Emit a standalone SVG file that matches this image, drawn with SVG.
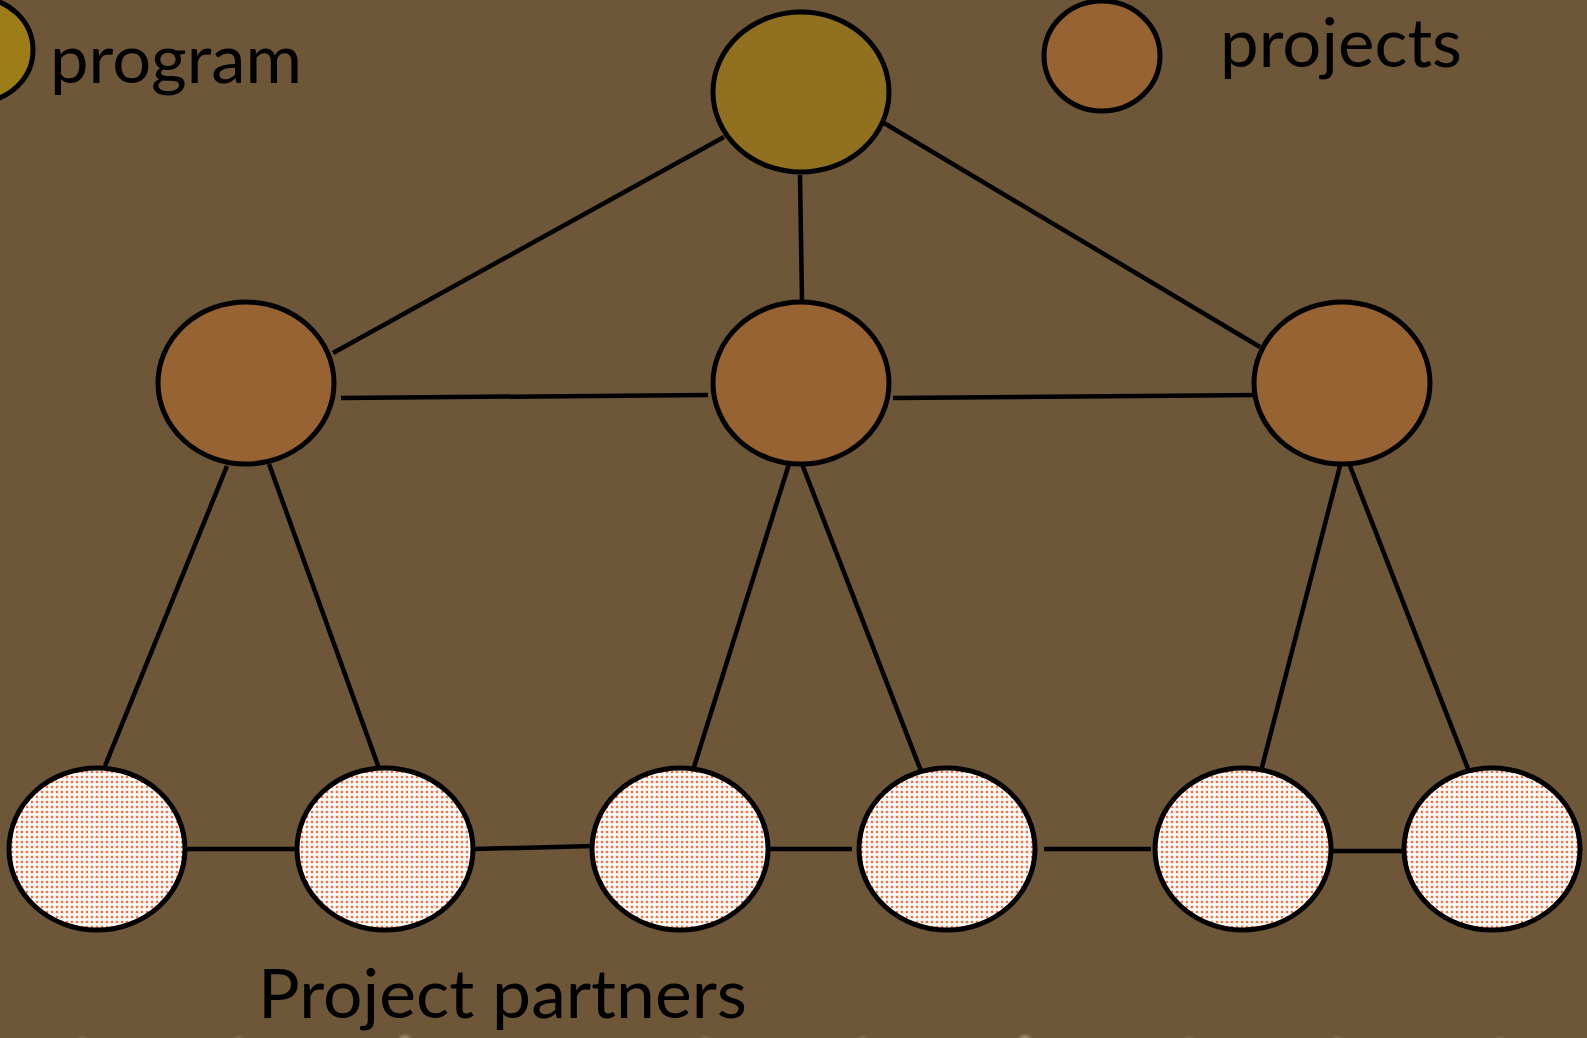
<svg xmlns="http://www.w3.org/2000/svg" width="1587" height="1038" viewBox="0 0 1587 1038">
<defs>
<pattern id="dots" width="5" height="5" patternUnits="userSpaceOnUse">
<rect width="5" height="5" fill="#ffffff"/>
<rect x="0.5" y="0.5" width="3" height="3" fill="#fbcbb6"/>
<rect x="1" y="1" width="2" height="2" fill="#f46d3e"/>
</pattern>
<radialGradient id="speck" cx="0.5" cy="0.5" r="0.5">
<stop offset="0" stop-color="#d8c49a" stop-opacity="0.8"/>
<stop offset="1" stop-color="#d8c49a" stop-opacity="0"/>
</radialGradient>
</defs>
<style>
.n{stroke:#000;stroke-width:5}
.program{fill:#8f7120}
.project{fill:#976332}
.partner{fill:url(#dots)}
.e{stroke:#000;stroke-width:4.5;fill:none;stroke-linecap:butt}
.t{font-family:Lato,"Open Sans","Liberation Sans",sans-serif;fill:#000}
</style>
<rect width="1587" height="1038" fill="#6e5639"/>
<g id="specks">
<ellipse cx="82" cy="1040" rx="7" ry="5" fill="url(#speck)" opacity="0.35"/>
<ellipse cx="239" cy="1040" rx="7" ry="5" fill="url(#speck)" opacity="0.45"/>
<ellipse cx="405" cy="1039" rx="8" ry="6" fill="url(#speck)" opacity="0.8"/>
<ellipse cx="705" cy="1040" rx="7" ry="5" fill="url(#speck)" opacity="0.35"/>
<ellipse cx="863" cy="1040" rx="7" ry="5" fill="url(#speck)" opacity="0.45"/>
<ellipse cx="1025" cy="1039" rx="8" ry="6" fill="url(#speck)" opacity="0.8"/>
<ellipse cx="1190" cy="1040" rx="7" ry="5" fill="url(#speck)" opacity="0.3"/>
<ellipse cx="1337" cy="1040" rx="7" ry="5" fill="url(#speck)" opacity="0.35"/>
<ellipse cx="1500" cy="1040" rx="7" ry="5" fill="url(#speck)" opacity="0.35"/>
</g>
<g id="connectors">
<line class="e" x1="724" y1="137" x2="333" y2="353"/>
<line class="e" x1="800" y1="175" x2="802" y2="300"/>
<line class="e" x1="884" y1="123" x2="1260" y2="347"/>
<line class="e" x1="341" y1="398" x2="708" y2="395"/>
<line class="e" x1="893" y1="398" x2="1260" y2="395"/>
<line class="e" x1="227" y1="466" x2="105" y2="766"/>
<line class="e" x1="269" y1="464" x2="380" y2="771"/>
<line class="e" x1="789" y1="464" x2="694" y2="767"/>
<line class="e" x1="802" y1="464" x2="921" y2="771"/>
<line class="e" x1="1340" y1="466" x2="1261" y2="771"/>
<line class="e" x1="1350" y1="466" x2="1470" y2="774"/>
<line class="e" x1="185" y1="849" x2="298" y2="849"/>
<line class="e" x1="474" y1="849" x2="593" y2="846"/>
<line class="e" x1="769" y1="849" x2="852" y2="849"/>
<line class="e" x1="1044" y1="849" x2="1151" y2="849"/>
<line class="e" x1="1332" y1="851" x2="1404" y2="851"/>
</g>
<g id="legend-program">
<ellipse class="n" cx="-22" cy="50" rx="55" ry="52" fill="#9c7d17"/>
<text class="t" x="50" y="83" font-size="67" textLength="252" lengthAdjust="spacingAndGlyphs">program</text>
</g>
<g id="legend-projects">
<ellipse class="n" cx="1102" cy="56" rx="58" ry="55" fill="#976332"/>
<text class="t" x="1220" y="67" font-size="67" textLength="242" lengthAdjust="spacingAndGlyphs">projects</text>
</g>
<g id="program-node"><ellipse class="n program" cx="801" cy="92" rx="88" ry="80"/></g>
<g id="project-1"><ellipse class="n project" cx="246" cy="383" rx="88" ry="81"/></g>
<g id="project-2"><ellipse class="n project" cx="801" cy="383" rx="88" ry="81"/></g>
<g id="project-3"><ellipse class="n project" cx="1342" cy="383" rx="88" ry="81"/></g>
<g id="partner-1"><ellipse class="n partner" cx="97" cy="849" rx="88" ry="81"/></g>
<g id="partner-2"><ellipse class="n partner" cx="385" cy="849" rx="88" ry="81"/></g>
<g id="partner-3"><ellipse class="n partner" cx="680" cy="849" rx="88" ry="81"/></g>
<g id="partner-4"><ellipse class="n partner" cx="947" cy="849" rx="88" ry="81"/></g>
<g id="partner-5"><ellipse class="n partner" cx="1243" cy="849" rx="88" ry="81"/></g>
<g id="partner-6"><ellipse class="n partner" cx="1492" cy="849" rx="88" ry="81"/></g>
<g id="label-partners">
<text class="t" x="258" y="1018" font-size="68" textLength="489" lengthAdjust="spacingAndGlyphs">Project partners</text>
</g>
</svg>
